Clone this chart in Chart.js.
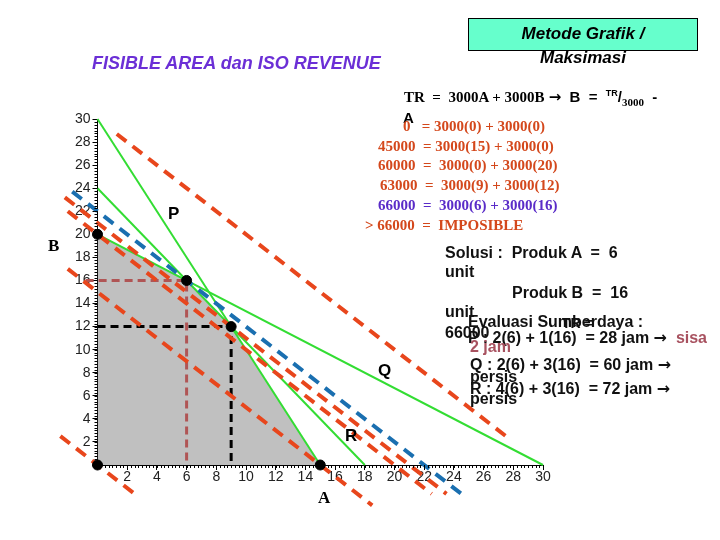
<!DOCTYPE html>
<html>
<head>
<meta charset="utf-8">
<script src="https://cdn.jsdelivr.net/npm/chart.js@4.4.0/dist/chart.umd.min.js"></script>
<style>
body { margin:0; background:#fff; }
#wrap { position:relative; width:720px; height:540px; overflow:hidden; font-family:"Liberation Sans", Arial, sans-serif; }
#wrap canvas { position:absolute; left:0; top:0; }
.t { position:absolute; white-space:nowrap; line-height:1; }
.eq { font-family:"Liberation Serif", "Times New Roman", serif; font-size:15px; font-weight:bold; color:#d4481c; }
.sol { font-size:16px; font-weight:bold; color:#111; }
.brn { color:#a85260; }
.arr { font-family:"DejaVu Sans", sans-serif; font-weight:bold; }
</style>
</head>
<body>
<div id="wrap">
  <canvas id="chart" width="720" height="540"></canvas>

  <div class="t" style="left:92px;top:54px;font-size:18px;font-weight:bold;font-style:italic;color:#6b2fd6;">FISIBLE AREA dan ISO REVENUE</div>
  <div style="position:absolute;left:468px;top:18px;width:228px;height:31px;background:#66ffcc;border:1px solid #000;"></div>
  <div class="t" style="left:468px;top:25px;width:230px;text-align:center;font-size:17px;font-weight:bold;font-style:italic;">Metode Grafik /</div>
  <div class="t" style="left:468px;top:49px;width:230px;text-align:center;font-size:17px;font-weight:bold;font-style:italic;">Maksimasi</div>

  <div class="t" style="left:404px;top:89px;font-size:15px;">
    <span style="font-family:'Liberation Serif',serif;font-weight:bold;">TR &nbsp;= &nbsp;3000A + 3000B</span><span style="font-weight:bold;"> <span class="arr">&rarr;</span> &nbsp;B &nbsp;= &nbsp;<sup style="font-size:9px;">TR</sup>/<sub style="font-size:11px;font-family:'Liberation Serif',serif;">3000</sub> &nbsp;-</span>
  </div>
  <div class="t" style="left:403px;top:110px;font-size:15px;font-weight:bold;">A</div>
  <div class="t eq" style="left:403px;top:119px;">0 &nbsp;&nbsp;= 3000(0) + 3000(0)</div>
  <div class="t eq" style="left:378px;top:139px;">45000 &nbsp;= 3000(15) + 3000(0)</div>
  <div class="t eq" style="left:378px;top:158px;">60000 &nbsp;= &nbsp;3000(0) + 3000(20)</div>
  <div class="t eq" style="left:380px;top:178px;">63000 &nbsp;= &nbsp;3000(9) + 3000(12)</div>
  <div class="t eq" style="left:378px;top:198px;color:#5a2cc8;">66000 &nbsp;= &nbsp;3000(6) + 3000(16)</div>
  <div class="t eq" style="left:365px;top:218px;">&gt; 66000 &nbsp;= &nbsp;IMPOSIBLE</div>

  <div class="t sol" style="left:445px;top:245px;">Solusi : &nbsp;Produk A &nbsp;= &nbsp;6</div>
  <div class="t sol" style="left:445px;top:264px;">unit</div>
  <div class="t sol" style="left:512px;top:285px;">Produk B &nbsp;= &nbsp;16</div>
  <div class="t sol" style="left:445px;top:304px;">unit</div>
  <div class="t sol" style="left:468px;top:314px;">Evaluasi Sumberdaya :</div>
  <div class="t sol" style="left:562px;top:316px;font-size:14px;">TR = </div>
  <div class="t sol" style="left:445px;top:325px;">66000</div>
  <div class="t sol" style="left:468px;top:330px;">P : 2(6) + 1(16) &nbsp;= 28 jam <span class="arr">&rarr;</span> &nbsp;<span class="brn">sisa</span></div>
  <div class="t sol brn" style="left:470px;top:339px;">2 jam</div>
  <div class="t sol" style="left:470px;top:357px;">Q : 2(6) + 3(16) &nbsp;= 60 jam <span class="arr">&rarr;</span></div>
  <div class="t sol" style="left:470px;top:369px;">persis</div>
  <div class="t sol" style="left:470px;top:381px;">R : 4(6) + 3(16) &nbsp;= 72 jam <span class="arr">&rarr;</span></div>
  <div class="t sol" style="left:470px;top:391px;">persis</div>

  <div class="t" style="left:168px;top:205px;font-size:17px;font-weight:bold;">P</div>
  <div class="t" style="left:378px;top:362px;font-size:17px;font-weight:bold;">Q</div>
  <div class="t" style="left:345px;top:427px;font-size:17px;font-weight:bold;">R</div>
  <div class="t" style="left:48px;top:237px;font-size:17px;font-weight:bold;font-family:'Liberation Serif',serif;">B</div>
  <div class="t" style="left:318px;top:489px;font-size:17px;font-weight:bold;font-family:'Liberation Serif',serif;">A</div>
</div>

<script>
// constraints: a*A + b*B = cap  (P, Q, R)
var consA = [2, 2, 4];
var consB = [1, 3, 3];
var consCap = [30, 60, 72];

// feasible area corners
var areaA = [0, 6, 9, 15];
var areaB = [20, 16, 12, 0];

// iso revenue lines  B = TR/3000 - A
var isoTR = [0, 45000, 60000, 63000, 66000, 90000];
var isoFromA = [-2.5, -2, -2, -2.2, -1.7, 1.3];
var isoToA = [2.7, 18.5, 22.5, 23.5, 24.6, 27.6];
var isoBest = 66000;

// corner points
var dotA = [0, 0, 6, 9, 15];
var dotB = [0, 20, 16, 12, 0];

// optimum guides
var optA = [6, 9];
var optB = [16, 12];
var optFromA = [-0.8, 0];

var datasets = [];

datasets.push({
  data: areaA.map(function(a, i){ return {x: a, y: areaB[i]}; }),
  showLine: true, borderWidth: 0, pointRadius: 0,
  backgroundColor: '#c0c0c0', fill: 'origin', order: 10
});

for (let i = 0; i < consA.length; i++) {
  datasets.push({
    data: [{x: 0, y: consCap[i] / consB[i]}, {x: consCap[i] / consA[i], y: 0}],
    showLine: true, borderColor: '#33dd33', borderWidth: 2, pointRadius: 0,
    clip: false, order: 6
  });
}

for (let i = 0; i < isoTR.length; i++) {
  var s = isoTR[i] / 3000;
  datasets.push({
    data: [{x: isoFromA[i], y: s - isoFromA[i]}, {x: isoToA[i], y: s - isoToA[i]}],
    showLine: true, borderColor: isoTR[i] == isoBest ? '#1a6fb0' : '#e8461c',
    borderWidth: 4, borderDash: [12, 8], pointRadius: 0,
    clip: false, order: 3
  });
}

var guideCol = ['#b05555', '#000000'];
for (let i = 0; i < optA.length; i++) {
  datasets.push({
    data: [{x: optFromA[i], y: optB[i]}, {x: optA[i], y: optB[i]}, {x: optA[i], y: 0}],
    showLine: true, borderColor: guideCol[i], borderWidth: 3, borderDash: [8, 5],
    pointRadius: 0, clip: false, order: 4
  });
}

datasets.push({
  data: dotA.map(function(a, i){ return {x: a, y: dotB[i]}; }),
  pointRadius: 5, pointBackgroundColor: '#000', pointBorderColor: '#000',
  showLine: false, clip: false, order: 0
});

// small ticks between the numbered ones
var minorTicks = {
  id: 'minorTicks',
  afterDraw: function(chart) {
    var ctx = chart.ctx, xs = chart.scales.x, ys = chart.scales.y;
    ctx.save();
    ctx.strokeStyle = '#000';
    ctx.lineWidth = 1;
    ctx.beginPath();
    for (var v = 0.25; v < 30; v += 0.25) {
      var px = Math.round(xs.getPixelForValue(v)) + 0.5;
      ctx.moveTo(px, ys.bottom); ctx.lineTo(px, ys.bottom + 3);
      var py = Math.round(ys.getPixelForValue(v)) + 0.5;
      ctx.moveTo(xs.left, py); ctx.lineTo(xs.left - 3, py);
    }
    ctx.stroke();
    ctx.restore();
  }
};

new Chart(document.getElementById('chart'), {
  type: 'scatter',
  data: { datasets: datasets },
  options: {
    responsive: false,
    animation: false,
    devicePixelRatio: 1,
    layout: { padding: { left: 67.5, right: 177, top: 119, bottom: 45 } },
    plugins: { legend: { display: false }, tooltip: { enabled: false } },
    scales: {
      x: {
        type: 'linear', min: 0, max: 30,
        afterFit: function(s){ s.height = 30; },
        border: { color: '#000', width: 1 },
        grid: { drawOnChartArea: false, color: '#000', tickLength: 5 },
        ticks: { stepSize: 2, autoSkip: false, maxRotation: 0, padding: -1, color: '#222',
                 font: { family: 'Liberation Sans', size: 14 },
                 callback: function(v){ return v === 0 ? '' : v; } }
      },
      y: {
        type: 'linear', min: 0, max: 30,
        afterFit: function(s){ s.width = 30; },
        border: { color: '#000', width: 1 },
        grid: { drawOnChartArea: false, color: '#000', tickLength: 5 },
        ticks: { stepSize: 2, autoSkip: false, padding: 2, color: '#222',
                 font: { family: 'Liberation Sans', size: 14 },
                 callback: function(v){ return v === 0 ? '' : v; } }
      }
    }
  },
  plugins: [minorTicks]
});
</script>
</body>
</html>
